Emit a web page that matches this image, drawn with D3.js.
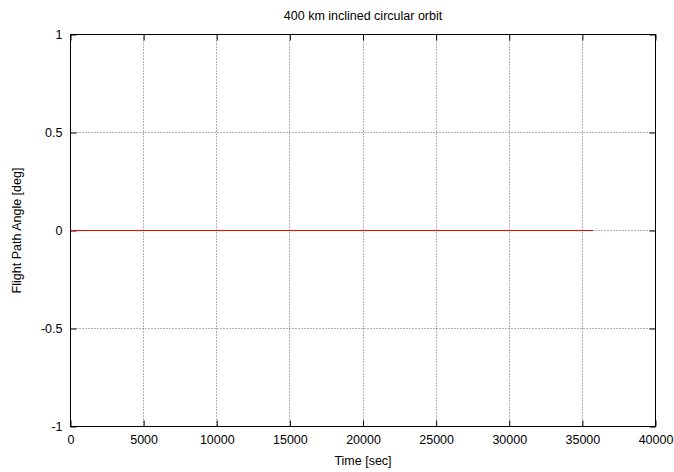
<!DOCTYPE html>
<html>
<head>
<meta charset="utf-8">
<script src="https://cdn.jsdelivr.net/npm/d3@7/dist/d3.min.js"></script>
<style>
  html, body { margin: 0; padding: 0; background: #fff; }
  svg { display: block; }
  text { font-family: "Liberation Sans", Arial, sans-serif; font-size: 12.5px; fill: #000; }
</style>
</head>
<body>
<svg id="chart" width="674" height="472"></svg>
<script>
// Flight path angle over time for a circular orbit (stays at zero)
const timeSec = [0, 35750];
const flightPathDeg = [0, 0];

const xTicks = [0, 5000, 10000, 15000, 20000, 25000, 30000, 35000, 40000];
const yTicks = [-1, -0.5, 0, 0.5, 1];

const titleText = "400 km inclined circular orbit";
const xLabel = "Time [sec]";
const yLabel = "Flight Path Angle [deg]";

const W = 674, H = 472;
const FONT = "\"Liberation Sans\", Arial, sans-serif";
const FS = "12.5px";
const m = { left: 70.5, right: 18.5, top: 34.5, bottom: 45.5 };
const pw = W - m.left - m.right;
const ph = H - m.top - m.bottom;

const svg = d3.select("#chart");
const g = svg.append("g").attr("transform", `translate(${m.left},${m.top})`);

const x = d3.scaleLinear().domain([0, 40000]).range([0, pw]);
const y = d3.scaleLinear().domain([-1, 1]).range([ph, 0]);

// dotted grid
const grid = g.append("g").attr("stroke", "#666").attr("stroke-width", 1).attr("stroke-dasharray", "1,2");
grid.selectAll("line.gx").data(xTicks.slice(1, -1)).join("line")
  .attr("x1", d => Math.round(x(d))).attr("x2", d => Math.round(x(d)))
  .attr("y1", 0).attr("y2", ph);
grid.selectAll("line.gy").data(yTicks.slice(1, -1)).join("line")
  .attr("y1", d => Math.round(y(d))).attr("y2", d => Math.round(y(d)))
  .attr("x1", 0).attr("x2", pw);

// axes with inward ticks on all sides
const tickLen = 6;
const fmt = d => String(d);
const axBottom = g.append("g").attr("transform", `translate(0,${ph})`)
  .call(d3.axisBottom(x).tickValues(xTicks).tickFormat(fmt).tickSizeInner(-tickLen).tickSizeOuter(0).tickPadding(9));
const axTop = g.append("g")
  .call(d3.axisTop(x).tickValues(xTicks).tickFormat("").tickSizeInner(-tickLen).tickSizeOuter(0));
const axLeft = g.append("g")
  .call(d3.axisLeft(y).tickValues(yTicks).tickFormat(fmt).tickSizeInner(-tickLen).tickSizeOuter(0).tickPadding(8));
const axRight = g.append("g").attr("transform", `translate(${pw},0)`)
  .call(d3.axisRight(y).tickValues(yTicks).tickFormat("").tickSizeInner(-tickLen).tickSizeOuter(0));
[axBottom, axTop, axLeft, axRight].forEach(a => {
  a.select(".domain").remove();
  a.selectAll("line").attr("stroke", "#000");
  a.selectAll("text").style("font-family", FONT).style("font-size", FS).attr("fill", "#000");
});

// data line
const line = d3.line().x((d, i) => x(timeSec[i])).y(d => y(d));
g.append("path").datum(flightPathDeg)
  .attr("d", line).attr("fill", "none").attr("stroke", "#f00").attr("stroke-width", 1);

// border
g.append("rect").attr("x", 0).attr("y", 0).attr("width", pw).attr("height", ph)
  .attr("fill", "none").attr("stroke", "#000").attr("stroke-width", 1);

// titles
svg.append("text").attr("x", m.left + pw / 2).attr("y", 19.5).attr("text-anchor", "middle").text(titleText);
svg.append("text").attr("x", m.left + pw / 2).attr("y", 465).attr("text-anchor", "middle").text(xLabel);
svg.append("text").attr("transform", `translate(21,${m.top + ph / 2}) rotate(-90)`)
  .attr("text-anchor", "middle").text(yLabel);
</script>
</body>
</html>
